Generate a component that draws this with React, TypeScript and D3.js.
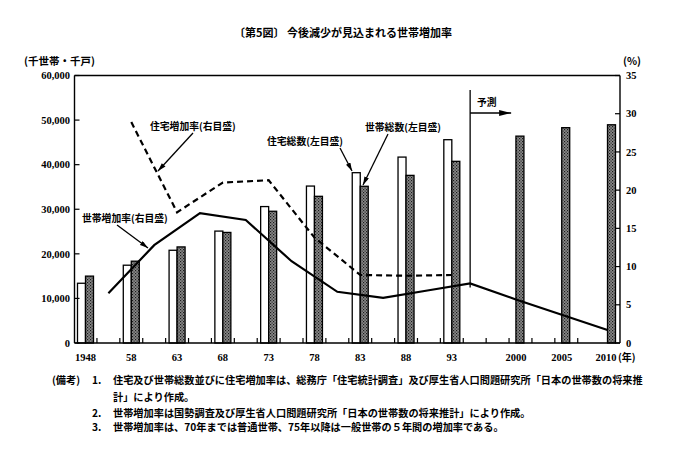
import * as d3 from 'd3';

// bar groups (1948 sits on a compressed stretch of the axis)
const barYears = [1948, 1958, 1963, 1968, 1973, 1978, 1983, 1988, 1993, 2000, 2005, 2010];
const tickLabels = ['1948', '58', '63', '68', '73', '78', '83', '88', '93', '2000', '2005', '2010'];
// 住宅総数 (千戸), no forecast
const housingStock = [13400, 17450, 20800, 25100, 30600, 35200, 38200, 41700, 45600, null, null, null];
// 世帯総数 (千世帯)
const households = [15000, 18350, 21550, 24800, 29550, 32900, 35150, 37600, 40750, 46400, 48300, 48950];

// 住宅増加率 (%), dashed
const housingRateYears = [1958, 1963, 1968, 1973, 1978, 1983, 1988, 1993];
const housingRate = [28.9, 17.1, 21.0, 21.3, 13.8, 8.9, 8.8, 8.9];

// 世帯増加率 (%), solid
const householdRateYears = [1955.5, 1960.5, 1965.5, 1970.5, 1975.5, 1980.5, 1985.5, 1990.5, 1995, 2000, 2005, 2010];
const householdRate = [6.5, 12.8, 17.0, 16.1, 10.7, 6.7, 5.9, 6.9, 7.8, 5.7, 3.7, 1.7];

const leftTicks = [0, 10000, 20000, 30000, 40000, 50000, 60000];
const rightTicks = [0, 5, 10, 15, 20, 25, 30, 35];
const forecastYear = 1995;

const notes = [
  '住宅及び世帯総数並びに住宅増加率は、総務庁「住宅統計調査」及び厚生省人口問題研究所「日本の世帯数の将来推',
  '計」により作成。',
  '世帯増加率は国勢調査及び厚生省人口問題研究所「日本の世帯数の将来推計」により作成。',
  '世帯増加率は、70年までは普通世帯、75年以降は一般世帯の５年間の増加率である。',
];

const W = 683;
const H = 457;
const left = 74.5;
const right = 620;
const top = 75.5;
const bottom = 343;

const jp = '"Noto Sans CJK JP", sans-serif';
const num = '"Liberation Serif", serif';

const axisYear = (y: number) => (y < 1953 ? 1953 : y);

export default function App() {
  const x = d3.scaleLinear().domain([1953, 2010]).range([85.5, 607.5]);
  const yL = d3.scaleLinear().domain([0, 60000]).range([bottom, top]);
  const yR = d3.scaleLinear().domain([0, 35]).range([bottom, top]);

  const barW = 8;
  const xTicks = d3.range(1954.25, 2009, 2.5);

  const dashedLine = d3.line<number>()
    .x((_, i) => x(housingRateYears[i]))
    .y(d => yR(d))(housingRate) as string;

  const solidLine = d3.line<number>()
    .x((_, i) => x(householdRateYears[i]))
    .y(d => yR(d))(householdRate) as string;

  const fx = x(forecastYear);
  const fy = yR(householdRate[householdRateYears.indexOf(forecastYear)]);

  const ann = { fontFamily: jp, fontSize: 9.8, fontWeight: 700 } as const;

  return (
    <svg width={W} height={H} style={{ position: 'absolute', left: 0, top: 0, background: '#fff' }}>
      <defs>
        <pattern id="stipple" width="3" height="3" patternUnits="userSpaceOnUse">
          <rect width="3" height="3" fill="#8a8a8a" />
          <rect width="1.2" height="1.2" fill="#1a1a1a" />
          <rect x="1.5" y="1.5" width="1.2" height="1.2" fill="#262626" />
        </pattern>
        <marker id="arr" viewBox="0 0 10 6" refX="10" refY="3" markerWidth="9" markerHeight="5" orient="auto" markerUnits="userSpaceOnUse">
          <path d="M0,0 L10,3 L0,6 z" fill="#000" />
        </marker>
        <marker id="arrBig" viewBox="0 0 12 6" refX="12" refY="3" markerWidth="13" markerHeight="6" orient="auto" markerUnits="userSpaceOnUse">
          <path d="M0,0 L12,3 L0,6 z" fill="#000" />
        </marker>
      </defs>

      {/* title */}
      <text x={234} y={37} fontFamily={jp} fontSize={11} fontWeight={700}>〔第5図〕</text>
      <text x={287} y={37} fontFamily={jp} fontSize={11} fontWeight={700}>今後減少が見込まれる世帯増加率</text>

      {/* unit labels */}
      <text x={24} y={65} fontFamily={jp} fontSize={10.5} fontWeight={700}>(千世帯・千戸)</text>
      <text x={623} y={65} fontFamily={jp} fontSize={10.5} fontWeight={700}>(%)</text>

      {/* bars */}
      {barYears.map((yr, i) => {
        const c = x(axisYear(yr));
        const h = housingStock[i];
        return (
          <g key={yr}>
            {h != null && (
              <rect x={c - barW} y={yL(h)} width={barW} height={bottom - yL(h)} fill="#fff" stroke="#000" strokeWidth={1.3} />
            )}
            <rect x={c} y={yL(households[i])} width={barW} height={bottom - yL(households[i])} fill="url(#stipple)" stroke="#000" strokeWidth={1.3} />
          </g>
        );
      })}

      {/* frame and axes */}
      <line x1={left} x2={right} y1={top} y2={top} stroke="#000" strokeWidth={1.6} />
      <line x1={left} x2={left} y1={top} y2={bottom} stroke="#000" strokeWidth={1.4} />
      <line x1={right} x2={right} y1={top} y2={bottom} stroke="#000" strokeWidth={1.4} />
      <line x1={left} x2={right} y1={bottom} y2={bottom} stroke="#000" strokeWidth={1.6} />

      {leftTicks.map(t => (
        <g key={t}>
          <line x1={left} x2={left + 5} y1={yL(t)} y2={yL(t)} stroke="#000" strokeWidth={1.2} />
          <text x={70} y={yL(t)} dy="0.35em" textAnchor="end" fontFamily={num} fontSize={10.5} fontWeight={700}>
            {d3.format(',')(t)}
          </text>
        </g>
      ))}
      {rightTicks.map(t => (
        <g key={t}>
          <line x1={right - 5} x2={right} y1={yR(t)} y2={yR(t)} stroke="#000" strokeWidth={1.2} />
          <text x={626} y={yR(t)} dy="0.35em" fontFamily={num} fontSize={10.5} fontWeight={700}>{t}</text>
        </g>
      ))}
      {xTicks.map(t => (
        <line key={t} x1={x(t)} x2={x(t)} y1={bottom} y2={bottom - 5} stroke="#000" strokeWidth={1.2} />
      ))}
      {barYears.map((yr, i) => (
        <text key={yr} x={yr === 2010 ? x(yr) - 12 : x(axisYear(yr))} y={357} dy="0.35em"
          textAnchor={yr === 2010 ? 'start' : 'middle'} fontFamily={num} fontSize={10.5} fontWeight={700}>
          {tickLabels[i]}
        </text>
      ))}
      <text x={618} y={357} dy="0.35em" fontFamily={jp} fontSize={10} fontWeight={700}>(年)</text>

      {/* lines */}
      <path d={dashedLine} fill="none" stroke="#000" strokeWidth={2.2} strokeDasharray="6 4" />
      <path d={solidLine} fill="none" stroke="#000" strokeWidth={2.2} />

      {/* forecast marker */}
      <line x1={fx} x2={fx} y1={90} y2={fy + 4} stroke="#000" strokeWidth={1.3} />
      <line x1={fx} x2={fx + 41} y1={113} y2={113} stroke="#000" strokeWidth={1.3} markerEnd="url(#arrBig)" />
      <text x={477} y={106} {...ann}>予測</text>

      {/* annotations */}
      <text x={150} y={130} {...ann}>住宅増加率(右目盛)</text>
      <line x1={193} x2={158} y1={133} y2={171} stroke="#000" strokeWidth={1.3} markerEnd="url(#arr)" />

      <text x={82} y={222} {...ann}>世帯増加率(右目盛)</text>
      <line x1={117} x2={148} y1={225} y2={248} stroke="#000" strokeWidth={1.3} markerEnd="url(#arr)" />

      <text x={267} y={145} {...ann}>住宅総数(左目盛)</text>
      <line x1={340} x2={352} y1={148} y2={171} stroke="#000" strokeWidth={1.3} markerEnd="url(#arr)" />

      <text x={365} y={131} {...ann}>世帯総数(左目盛)</text>
      <line x1={388} x2={363} y1={134} y2={185} stroke="#000" strokeWidth={1.3} markerEnd="url(#arr)" />

      {/* notes */}
      <g fontFamily={jp} fontSize={10.2} fontWeight={700}>
        <text x={52} y={384}>(備考)</text>
        <text x={92} y={384}>1.</text>
        <text x={113} y={384}>{notes[0]}</text>
        <text x={113} y={401}>{notes[1]}</text>
        <text x={92} y={417}>2.</text>
        <text x={113} y={417}>{notes[2]}</text>
        <text x={92} y={431}>3.</text>
        <text x={113} y={431}>{notes[3]}</text>
      </g>
    </svg>
  );
}
